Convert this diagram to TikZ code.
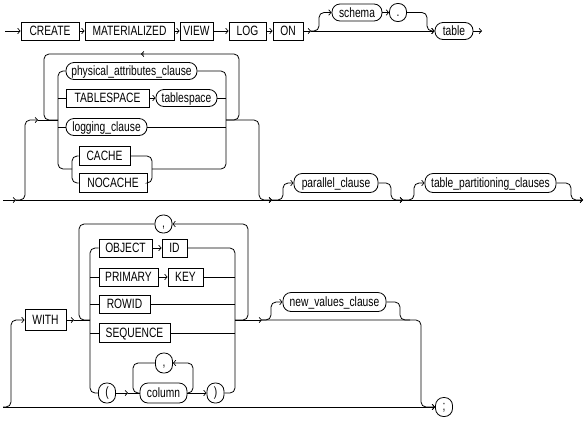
\documentclass[tikz,border=0pt]{standalone}
\usepackage{fontspec}
\newfontfamily\dfont[FakeStretch=0.76]{Liberation Sans}
\usetikzlibrary{arrows.meta}
\begin{document}
\begin{tikzpicture}[x=1pt,y=-1pt, line width=0.8pt,
  rc/.style={rounded corners=5pt},
  arr/.style={-{Straight Barb[length=2.5pt,width=5.5pt,line width=0.7pt]}},
  txt/.style={font={\dfont\fontsize{13.5}{15}\selectfont}, text height=9.6pt, text depth=0pt},
  kw/.style={draw, rectangle, inner sep=0pt, minimum height=18pt, txt},
  nt/.style={draw, rectangle, rounded corners=8pt, inner sep=0pt, minimum height=17pt, txt},
  sym/.style={draw, rectangle, rounded corners=8pt, inner sep=0pt, minimum width=17pt, minimum height=18pt, txt, text height=7pt},
]
\useasboundingbox (0,0) rectangle (588,421);

% ---------- row 1 ----------
\coordinate (s1) at (5,31);
\node[kw, minimum width=58pt] (create) at (50,31) {CREATE};
\node[kw, minimum width=89pt] (mat) at (129.5,31) {MATERIALIZED};
\node[kw, minimum width=33pt] (view) at (196.5,31) {VIEW};
\node[kw, minimum width=37pt] (log) at (247.5,31) {LOG};
\node[kw, minimum width=30pt] (on) at (288,31) {ON};
\node[nt, minimum width=50pt] (schema) at (357,12.5) {schema};
\node[sym] (dot) at (398,12.5) {.};
\node[nt, minimum width=38pt] (table) at (454,31) {table};
\coordinate (j1) at (311,31);
\coordinate (e1) at (482,31);

\draw[arr] (s1) -- (create);
\draw[arr] (create) -- (mat);
\draw[arr] (mat) -- (view);
\draw[arr] (view) -- (log);
\draw[arr] (log) -- (on);
\draw[arr] (on) -- (j1);
\draw[arr] (j1) -- (table);
\draw[rc,arr] (j1) -- (319,31) -- (319,12.5) -- (schema.west);
\draw[arr] (schema) -- (dot);
\draw[rc,arr] (dot.east) -- (427,12.5) -- (427,31) -- (table.west);
\draw[arr] (table) -- (e1);

% ---------- row 2 ----------
\coordinate (s2) at (3,200);
\coordinate (j2a) at (16,200);
\coordinate (j2b) at (272,200);
\coordinate (j2c) at (403,200);
\coordinate (e2) at (583,200);
\coordinate (a2) at (38,120);
\coordinate (lj) at (58,120);
\coordinate (rj) at (226,120);
\coordinate (lp) at (141,54);
\coordinate (lq) at (144,54);

\node[nt, minimum width=131pt] (phys) at (131.5,71) {physical\_attributes\_clause};
\node[kw, minimum width=83pt] (tsk) at (107.5,98) {TABLESPACE};
\node[nt, minimum width=61pt] (tsv) at (186.5,98) {tablespace};
\node[nt, minimum width=81pt] (logc) at (106.5,127) {logging\_clause};
\node[kw, minimum width=51pt, minimum height=19pt] (cache) at (104.5,156) {CACHE};
\node[kw, minimum width=68pt, minimum height=19pt] (nocache) at (113,183) {NOCACHE};
\node[nt, minimum width=84pt, minimum height=19pt] (par) at (336,183) {parallel\_clause};
\node[nt, minimum width=131pt, minimum height=19pt] (tpc) at (490.5,183) {table\_partitioning\_clauses};

\draw[arr] (s2) -- (j2a);
\draw[arr] (j2a) -- (j2b);
\draw[arr] (j2b) -- (j2c);
\draw[arr] (j2c) -- (e2);
\draw[rc,arr] (j2a) -- (25,200) -- (25,120) -- (a2);
\draw (a2) -- (lj);
% loop
\draw[rc,arr] (rj) -- (239,120) -- (239,54) -- (lp);
\draw[rc] (lq) -- (44,54) -- (44,120) -- (lj);
% choice rails
\draw[rc] (phys.west) -| (58,169) -- (72,169);
\draw (58,98) -- (tsk.west);
\draw (58,127) -- (logc.west);
\draw[rc] (cache.west) -| (72,183) -- (nocache.west);
\draw[rc] (cache.east) -| (152,183) -- (nocache.east);
\draw[rc] (phys.east) -| (226,169) -- (152,169);
\draw[arr] (tsk) -- (tsv);
\draw (tsv.east) -- (226,98);
\draw (logc.east) -- (226,127);
% exit
\draw[rc,arr] (rj) -- (259,120) -- (259,200) -- (j2b);
% optional clauses
\draw[rc,arr] (j2b) -- (283,200) -- (283,183) -- (par.west);
\draw[rc,arr] (par.east) -- (391,183) -- (391,200) -- (j2c);
\draw[rc,arr] (j2c) -- (414,200) -- (414,183) -- (tpc.west);
\draw[rc,arr] (tpc.east) -- (571,183) -- (571,200) -- (e2);

% ---------- row 3 ----------
\coordinate (s3) at (3,407);
\coordinate (a3) at (74,320);
\coordinate (wl) at (90,320);
\coordinate (wr) at (235,320);
\coordinate (j3) at (262,320);
\coordinate (a4) at (128,393);

\node[kw, minimum width=41pt, minimum height=21pt] (with) at (45.5,320) {WITH};
\node[sym] (comma1) at (163.5,224) {,};
\node[kw, minimum width=53pt] (obj) at (125.5,248) {OBJECT};
\node[kw, minimum width=25pt] (id) at (174.5,248) {ID};
\node[kw, minimum width=59pt] (prim) at (128.5,277) {PRIMARY};
\node[kw, minimum width=35pt] (key) at (185.5,277) {KEY};
\node[kw, minimum width=51pt] (rowid) at (124.5,304) {ROWID};
\node[kw, minimum width=71pt, minimum height=19pt] (seq) at (134.5,333) {SEQUENCE};
\node[sym, minimum height=20pt] (lpar) at (107,393) {(};
\node[nt, minimum width=47pt, minimum height=20pt] (column) at (163.5,393) {column};
\node[sym, minimum height=20pt] (rpar) at (215.5,393) {)};
\node[sym, minimum height=20pt] (comma2) at (164,363) {,};
\node[nt, minimum width=103pt, minimum height=19pt] (nv) at (334.5,302) {new\_values\_clause};
\node[sym, minimum height=19pt] (semi) at (444,407) {;};

\draw[arr] (s3) -- (semi);
\draw[rc,arr] (s3) -- (11,407) -- (11,320) -- (with.west);
\draw[arr] (with) -- (a3);
\draw (a3) -- (wl);
% outer loop
\draw[rc,arr] (wr) -- (248,320) -- (248,224) -- (comma1.east);
\draw[rc] (comma1.west) -- (79,224) -- (79,320) -- (wl);
% rails
\draw[rc] (obj.west) -| (90,393) -- (lpar.west);
\draw (90,277) -- (prim.west);
\draw (90,304) -- (rowid.west);
\draw (90,333) -- (seq.west);
\draw[arr] (obj) -- (id);
\draw[arr] (prim) -- (key);
\draw[rc] (id.east) -| (235,393) -- (rpar.east);
\draw (key.east) -- (235,277);
\draw (rowid.east) -- (235,304);
\draw (seq.east) -- (235,333);
% column list
\draw[arr] (lpar) -- (a4);
\draw (a4) -- (column.west);
\draw[rc,arr] (column.east) -- (193,393) -- (193,363) -- (comma2.east);
\draw[rc] (comma2.west) -- (133,363) -- (133,393) -- (column.west);
\draw[arr] (column) -- (rpar);
% after
\draw[arr] (wr) -- (j3);
\draw[rc,arr] (j3) -- (271,320) -- (271,302) -- (nv.west);
\draw[rc] (nv.east) -- (400,302) -- (400,320) -- (410,320);
\draw[rc,arr] (j3) -- (421,320) -- (421,407) -- (semi.west);
\end{tikzpicture}
\end{document}
